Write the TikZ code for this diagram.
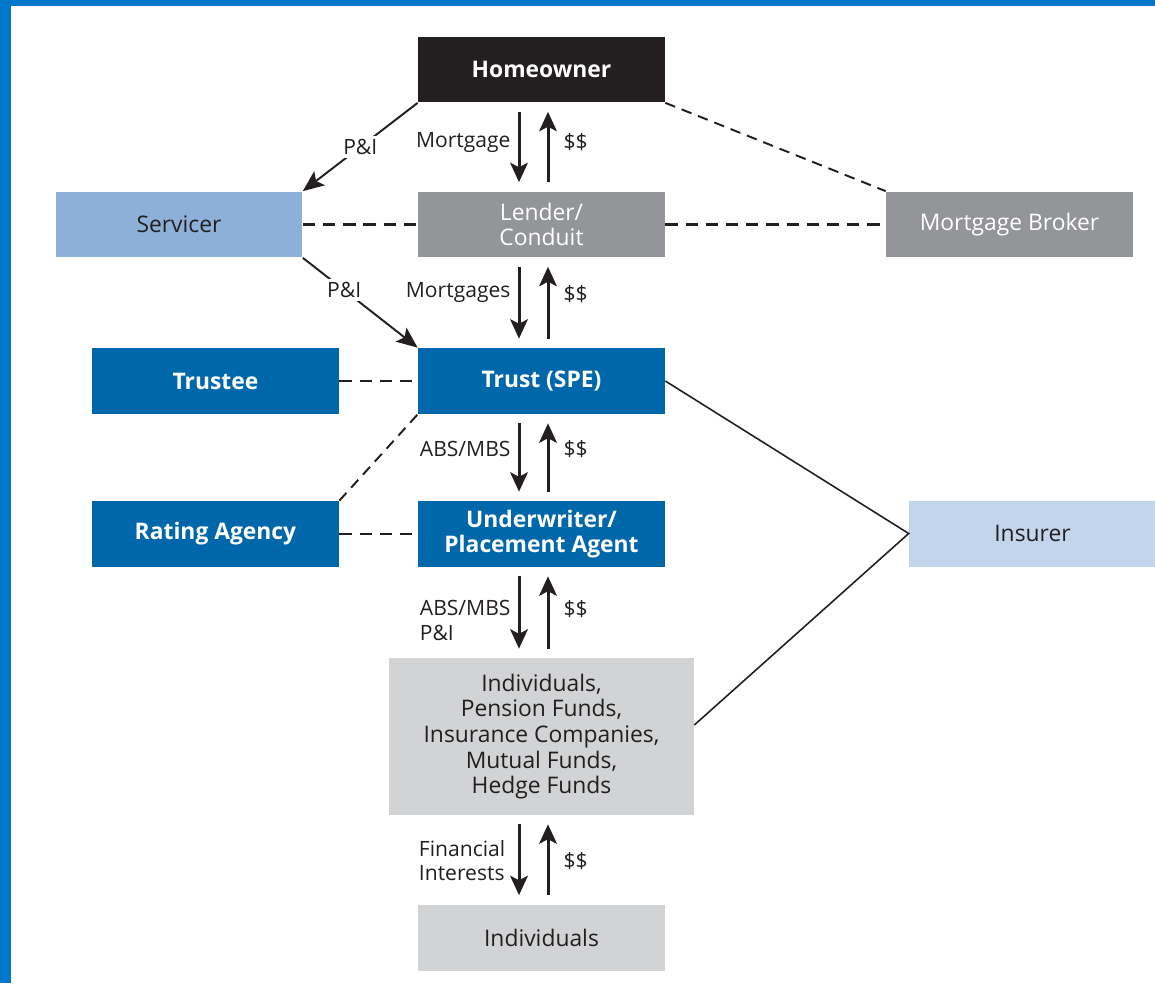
\documentclass[tikz,border=0pt]{standalone}
\usepackage{fontspec}
\setmainfont{Open Sans}
\usepackage{tikz}
\usetikzlibrary{arrows.meta}

\definecolor{frameblue}{RGB}{0,119,200}
\definecolor{darkblue}{RGB}{0,103,170}
\definecolor{midblue}{RGB}{141,176,216}
\definecolor{paleblue}{RGB}{194,213,235}
\definecolor{midgray}{RGB}{147,149,152}
\definecolor{palegray}{RGB}{209,211,212}
\definecolor{ink}{RGB}{35,31,32}

\begin{document}
\begin{tikzpicture}[x=0.02cm, y=-0.02cm, >={Stealth[length=11pt,width=10pt,inset=2.5pt]},
    box/.style={minimum width=4.94cm, minimum height=1.32cm, inner sep=0pt, align=center,
                font=\fontsize{13}{14.6}\selectfont},
    lbl/.style={text=ink, font=\fontsize{12}{14}\selectfont, inner sep=4pt},
    flow/.style={->, ink, line width=1.7pt, shorten <=0.18cm, shorten >=0.18cm},
    pi/.style={->, ink, line width=1.1pt, >={Stealth[length=12pt,width=10pt,inset=2.5pt]}},
    link/.style={ink, line width=1.6pt, dash pattern=on 7pt off 4.5pt},
    thinlink/.style={ink, line width=1.1pt, dash pattern=on 6pt off 4pt}]

    \useasboundingbox (0,0) rectangle (1155,983);
    \fill[frameblue] (0,0) rectangle (1155,6);
    \fill[frameblue] (0,0) rectangle (11,983);

    % boxes
    \node[box, fill=ink, text=white, font=\fontsize{13}{14.6}\bfseries] (home) at (541.5,69.5) {Homeowner};
    \node[box, fill=midblue, text=ink] (serv) at (179,224.5) {Servicer};
    \node[box, fill=midgray, text=white] (lend) at (541.5,224.5) {Lender/\\Conduit};
    \node[box, fill=midgray, text=white] (broker) at (1009.5,224.5) {Mortgage Broker};
    \node[box, fill=darkblue, text=white, font=\fontsize{13}{14.6}\bfseries] (trustee) at (215.5,381) {Trustee};
    \node[box, fill=darkblue, text=white, font=\fontsize{13}{14.6}\bfseries] (trust) at (541.5,381) {Trust (SPE)};
    \node[box, fill=darkblue, text=white, font=\fontsize{13}{14.6}\bfseries] (rating) at (215.5,534) {Rating Agency};
    \node[box, fill=darkblue, text=white, font=\fontsize{13}{14.6}\bfseries] (under) at (541.5,534) {Underwriter/\\Placement Agent};
    \node[box, fill=paleblue, text=ink] (insurer) at (1032.5,533.5) {Insurer};
    \node[box, fill=palegray, text=ink, minimum width=6.1cm, minimum height=3.14cm] (inv) at (541.5,736.5)
        {Individuals,\\Pension Funds,\\Insurance Companies,\\Mutual Funds,\\Hedge Funds};
    \node[box, fill=palegray, text=ink] (indiv) at (541.5,937.5) {Individuals};

    % flows down and up the chain
    \draw[flow] ([xshift=-0.45cm]home.south) -- node[lbl, pos=0.45, left] {Mortgage} ([xshift=-0.45cm]lend.north);
    \draw[flow] ([xshift=0.13cm]lend.north) -- node[lbl, pos=0.56, right, xshift=4pt] {\$\$} ([xshift=0.13cm]home.south);

    \draw[flow] ([xshift=-0.45cm]lend.south) -- node[lbl, pos=0.39, left] {Mortgages} ([xshift=-0.45cm]trust.north);
    \draw[flow] ([xshift=0.13cm]trust.north) -- node[lbl, pos=0.6, right, xshift=4pt] {\$\$} ([xshift=0.13cm]lend.south);

    \draw[flow] ([xshift=-0.45cm]trust.south) -- node[lbl, pos=0.4, left] {ABS/MBS} ([xshift=-0.45cm]under.north);
    \draw[flow] ([xshift=0.13cm]under.north) -- node[lbl, pos=0.6, right, xshift=4pt] {\$\$} ([xshift=0.13cm]trust.south);

    \draw[flow] ([xshift=-0.45cm]under.south) -- node[lbl, pos=0.59, left, align=left] {ABS/MBS\\P\&I} ([xshift=-0.45cm]inv.north);
    \draw[flow] ([xshift=0.13cm]inv.north) -- node[lbl, pos=0.54, right, xshift=4pt] {\$\$} ([xshift=0.13cm]under.south);

    \draw[flow] ([xshift=-0.45cm]inv.south) -- node[lbl, pos=0.51, left, align=left, xshift=-3pt] {Financial\\Interests} ([xshift=-0.45cm]indiv.north);
    \draw[flow] ([xshift=0.13cm]indiv.north) -- node[lbl, pos=0.49, right, xshift=4pt] {\$\$} ([xshift=0.13cm]inv.south);

    % payments to and from the servicer
    \draw[pi] (home.south west) -- node[lbl, fill=white, inner sep=2pt] {P\&I} (serv.north east);
    \draw[pi] (serv.south east) -- node[lbl, fill=white, inner sep=2pt, pos=0.36] {P\&I} (trust.north west);

    % other parties
    \draw[link] (serv) -- (lend);
    \draw[link] (lend) -- (broker);
    \draw[thinlink] (home.south east) -- (broker.north west);
    \draw[link] (trustee) -- (trust);
    \draw[link] (rating) -- (under);
    \draw[thinlink] (rating.north east) -- (trust.south west);

    \draw[ink, line width=0.9pt] (trust.east) -- (insurer.west) -- ([yshift=0.23cm]inv.east);
\end{tikzpicture}
\end{document}
